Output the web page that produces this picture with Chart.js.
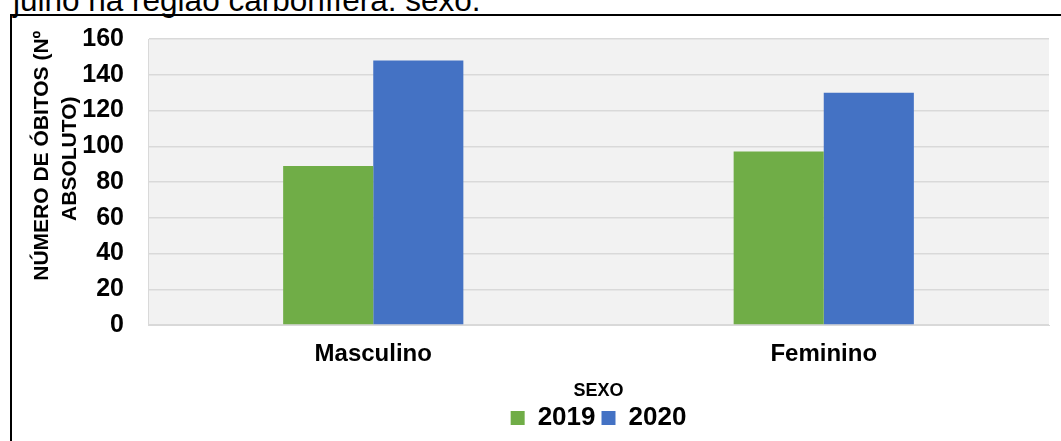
<!DOCTYPE html>
<html>
<head>
<meta charset="utf-8">
<script src="https://cdn.jsdelivr.net/npm/chart.js@4.4.0/dist/chart.umd.min.js"></script>
<style>
  html, body { margin: 0; padding: 0; background: #fff; }
  #wrap { position: relative; width: 1061px; height: 441px; overflow: hidden; }
  #caption {
    position: absolute; left: 13px; top: -15px;
    font: 31.5px/31.5px 'Liberation Sans', Arial, sans-serif; color: #000; white-space: nowrap;
  }
  #frame {
    position: absolute; left: 10px; top: 14px; width: 1100px; height: 500px;
    border-top: 2px solid #000; border-left: 2px solid #000;
  }
  #chart { position: absolute; left: 0; top: 0; }
</style>
</head>
<body>
<div id="wrap">
  <div id="caption">julho na região carbonífera: sexo.</div>
  <div id="frame"></div>
  <canvas id="chart" width="1061" height="441"></canvas>
</div>
<script>
// Óbitos por sexo, 2019 x 2020
const categories = ['Masculino', 'Feminino'];
const obitos2019 = [89, 97];
const obitos2020 = [148, 130];
const yTicks = [0, 20, 40, 60, 80, 100, 120, 140, 160];

const FONT = "'Liberation Sans', Arial, sans-serif";

// fundo cinza da área de plotagem
const plotBackground = {
    id: 'plotBackground',
    beforeDraw(chart) {
        const { ctx, chartArea: a } = chart;
        ctx.save();
        ctx.fillStyle = '#f2f2f2';
        ctx.fillRect(a.left, a.top, a.right - a.left, a.bottom - a.top);
        ctx.restore();
    }
};

const ctx = document.getElementById('chart').getContext('2d');
new Chart(ctx, {
    type: 'bar',
    data: {
        labels: categories,
        datasets: [{
            label: '2019',
            data: obitos2019,
            backgroundColor: '#70ad47',
            categoryPercentage: 0.4,
            barPercentage: 1.0
        }, {
            label: '2020',
            data: obitos2020,
            backgroundColor: '#4472c4',
            categoryPercentage: 0.4,
            barPercentage: 1.0
        }]
    },
    options: {
        responsive: false,
        animation: false,
        layout: { padding: { left: 12, right: 12, top: 37, bottom: 0 } },
        plugins: {
            tooltip: { enabled: false },
            legend: {
                position: 'bottom',
                fullSize: false,
                labels: {
                    boxWidth: 14,
                    boxHeight: 14,
                    padding: 6,
                    color: '#000',
                    font: { family: FONT, size: 26, weight: 'bold' }
                }
            }
        },
        scales: {
            x: {
                afterFit(scale) {
                    scale.height = 74;
                },
                grid: { display: false, drawTicks: false },
                border: { color: '#d9d9d9' },
                ticks: {
                    padding: 15,
                    color: '#000',
                    font: { family: FONT, size: 24, weight: 'bold' }
                },
                title: {
                    display: true,
                    text: 'SEXO',
                    color: '#000',
                    padding: { top: 0, bottom: -3 },
                    font: { family: FONT, size: 18, weight: 'bold' }
                }
            },
            y: {
                min: 0,
                max: 160,
                afterBuildTicks(scale) {
                    scale.ticks = yTicks.map(v => ({ value: v }));
                },
                afterFit(scale) {
                    scale.width = 136;
                },
                grid: { color: '#d9d9d9', lineWidth: 1.5, drawTicks: false },
                border: { color: '#d9d9d9' },
                ticks: {
                    padding: 24,
                    color: '#000',
                    font: { family: FONT, size: 25, weight: 'bold' }
                },
                title: {
                    display: true,
                    text: ['         NÚMERO DE ÓBITOS (Nº', '        ABSOLUTO)'],
                    color: '#000',
                    padding: { top: 17, bottom: 0 },
                    font: { family: FONT, size: 21, weight: 'bold', lineHeight: 1.3 }
                }
            }
        }
    },
    plugins: [plotBackground]
});
</script>
</body>
</html>
